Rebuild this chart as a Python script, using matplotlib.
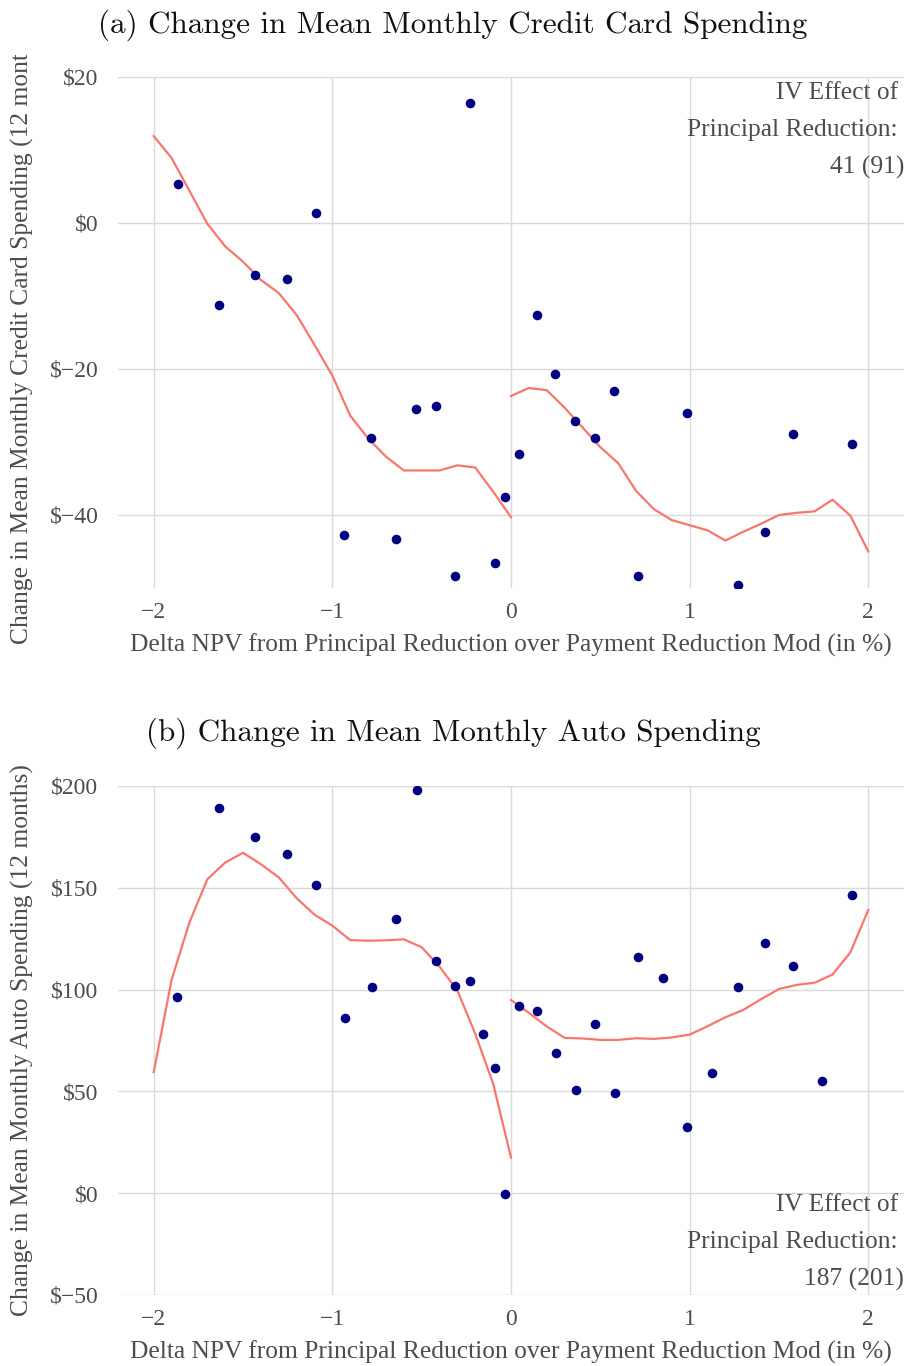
import matplotlib
matplotlib.use("Agg")
import matplotlib.pyplot as plt
from matplotlib.transforms import Bbox, TransformedBbox

# ---------------- data ----------------
x_ticks = [-2, -1, 0, 1, 2]
x_tick_labels = ["\u22122", "\u22121", "0", "1", "2"]

# panel (a) credit card
cc_pts_x = [-1.866, -1.632, -1.431, -1.252, -1.091, -0.934, -0.784, -0.644, -0.533, -0.421,
            -0.315, -0.232, -0.092, -0.036, 0.042, 0.148, 0.248, 0.360, 0.471, 0.577,
            0.711, 0.985, 1.269, 1.420, 1.576, 1.911]
cc_pts_y = [5.3, -11.2, -7.1, -7.7, 1.4, -42.7, -29.5, -43.3, -25.5, -25.1,
            -48.4, 16.4, -46.6, -37.5, -31.6, -12.6, -20.7, -27.1, -29.5, -23.0,
            -48.4, -26.0, -49.6, -42.3, -28.9, -30.3]
cc_left_x = [-2.0, -1.9, -1.8, -1.7, -1.6, -1.5, -1.4, -1.3, -1.2, -1.1, -1.0,
             -0.9, -0.8, -0.7, -0.6, -0.5, -0.4, -0.3, -0.2, -0.1, 0.0]
cc_left_y = [11.9, 8.9, 4.4, -0.1, -3.2, -5.3, -7.8, -9.6, -12.6, -16.7, -20.9,
             -26.4, -29.5, -32.0, -33.9, -33.9, -33.9, -33.2, -33.5, -36.8, -40.3]
cc_right_x = [0.0, 0.1, 0.2, 0.3, 0.4, 0.5, 0.6, 0.7, 0.8, 0.9, 1.0,
              1.1, 1.2, 1.3, 1.4, 1.5, 1.6, 1.7, 1.8, 1.9, 2.0]
cc_right_y = [-23.7, -22.6, -22.9, -25.3, -28.0, -30.7, -32.9, -36.7, -39.2, -40.7, -41.4,
              -42.1, -43.5, -42.3, -41.2, -40.0, -39.7, -39.5, -37.9, -40.1, -45.0]
cc_yticks = [20, 0, -20, -40]
cc_yticklabels = ["$20", "$0", "$\u221220", "$\u221240"]

# panel (b) auto
au_pts_x = [-1.868, -1.632, -1.431, -1.252, -1.091, -0.931, -0.778, -0.644, -0.529, -0.421,
            -0.315, -0.232, -0.157, -0.090, -0.031, 0.046, 0.146, 0.250, 0.362, 0.471,
            0.581, 0.711, 0.853, 0.985, 1.124, 1.273, 1.424, 1.578, 1.742, 1.911]
au_pts_y = [96.2, 189.1, 175.1, 166.5, 151.3, 86.1, 101.1, 134.5, 197.9, 113.9,
            101.8, 104.3, 78.3, 61.6, -0.6, 91.8, 89.5, 69.0, 50.8, 83.2,
            49.4, 116.0, 105.7, 32.5, 59.2, 101.1, 122.9, 111.4, 55.2, 146.4]
au_left_x = cc_left_x
au_left_y = [59.5, 104.8, 133.0, 154.2, 162.4, 167.2, 161.6, 155.1, 144.9, 136.8, 131.4,
             124.3, 124.0, 124.2, 124.7, 120.8, 111.3, 99.5, 78.3, 53.8, 17.5]
au_right_x = cc_right_x
au_right_y = [94.9, 88.6, 81.9, 76.3, 76.0, 75.3, 75.3, 76.1, 75.8, 76.5, 77.9,
              82.0, 86.4, 90.0, 95.3, 100.3, 102.3, 103.4, 107.4, 118.3, 139.1]
au_yticks = [200, 150, 100, 50, 0, -50]
au_yticklabels = ["$200", "$150", "$100", "$50", "$0", "$\u221250"]

titles = ["(a) Change in Mean Monthly Credit Card Spending",
          "(b) Change in Mean Monthly Auto Spending"]
ylabels = ["Change in Mean Monthly Credit Card Spending (12 months)",
           "Change in Mean Monthly Auto Spending (12 months)"]
xlabel = "Delta NPV from Principal Reduction over Payment Reduction Mod (in %)"
annotations = ["IV Effect of\nPrincipal Reduction:\n41 (91)",
               "IV Effect of\nPrincipal Reduction:\n187 (201)"]

# ---------------- style ----------------
W, H = 908, 1366
SERIF = ["Liberation Serif", "DejaVu Serif"]
TXT = "#4D4D4D"
GRID = "#DADADA"
PT = "#000080"
LINE = "#F8766D"

fig = plt.figure(figsize=(W / 100, H / 100), dpi=100)


def px_axes(left, top, right, bottom):
    return fig.add_axes([left / W, 1 - bottom / H, (right - left) / W, (bottom - top) / H])


panels = [
    dict(box=(118, 77, 904, 588), ylim=(-50, 20), pts=(cc_pts_x, cc_pts_y),
         left=(cc_left_x, cc_left_y), right=(cc_right_x, cc_right_y),
         yt=cc_yticks, ytl=cc_yticklabels, title_y=25, xlab_y=645, ylab_clip=55,
         ann_y=93),
    dict(box=(118, 786, 904, 1295), ylim=(-50, 200), pts=(au_pts_x, au_pts_y),
         left=(au_left_x, au_left_y), right=(au_right_x, au_right_y),
         yt=au_yticks, ytl=au_yticklabels, title_y=733, xlab_y=1352, ylab_clip=None,
         ann_y=1205),
]

for i, p in enumerate(panels):
    ax = px_axes(*p["box"])
    ax.set_xlim(-2.2, 2.2)
    ax.set_ylim(*p["ylim"])
    for s in ax.spines.values():
        s.set_visible(False)
    ax.set_xticks(x_ticks)
    ax.set_xticklabels(x_tick_labels)
    ax.set_yticks(p["yt"])
    ax.set_yticklabels([t.replace("$", r"\$") for t in p["ytl"]])
    ax.tick_params(length=0, labelsize=17, labelcolor=TXT, pad=10)
    ax.tick_params(axis="y", pad=14)
    for lab in ax.get_xticklabels() + ax.get_yticklabels():
        lab.set_family(SERIF)
    ax.grid(True, color=GRID, lw=1.0)
    ax.set_axisbelow(True)
    ax.plot(*p["left"], color=LINE, lw=1.6, zorder=3)
    ax.plot(*p["right"], color=LINE, lw=1.6, zorder=3)
    ax.scatter(*p["pts"], s=48, color=PT, zorder=4, linewidths=0)

    # annotation (right aligned, top right area)
    lines = annotations[i].split("\n")
    for j, ln in enumerate(lines):
        xr = 898 if j < len(lines) - 1 else 904
        fig.text(xr / W, 1 - (p["ann_y"] + 37 * j) / H, ln, ha="right", va="center",
                 fontsize=18.4, color=TXT, family=SERIF)

    # title
    fig.text(453 / W, 1 - p["title_y"] / H, titles[i], ha="center", va="center",
             fontsize=22.4, color="#111111", family=["cmr10", "DejaVu Serif"])
    # x label
    fig.text(511 / W, 1 - p["xlab_y"] / H, xlabel, ha="center", va="center",
             fontsize=18.4, color=TXT, family=SERIF)
    # y label
    cy = (p["box"][1] + p["box"][3]) / 2
    yl = fig.text(22 / W, 1 - cy / H, ylabels[i], ha="center", va="center",
                  rotation=90, fontsize=18.4, color=TXT, family=SERIF)
    if p["ylab_clip"] is not None:
        clip = TransformedBbox(Bbox([[0, 0.3], [1, 1 - p["ylab_clip"] / H]]), fig.transFigure)
        yl.set_clip_box(clip)
        yl.set_clip_on(True)

fig.savefig("out.png", dpi=100)
